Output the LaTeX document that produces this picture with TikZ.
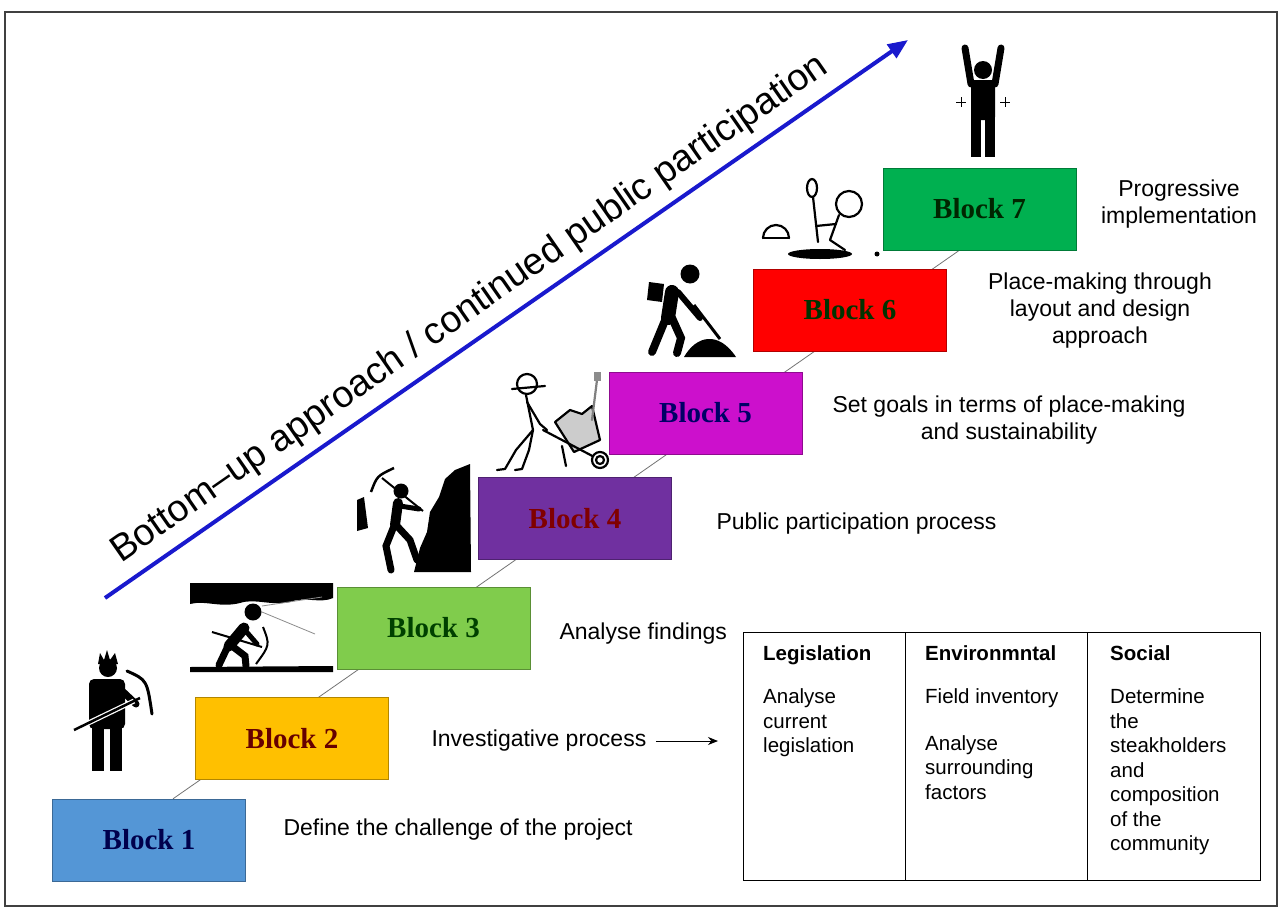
\documentclass[tikz,border=0pt]{standalone}
\usepackage{fontspec}
\setmainfont{Liberation Sans}
\newfontfamily\blockfont{Liberation Serif}
\usetikzlibrary{arrows.meta,positioning,backgrounds}
\definecolor{stepblue}{RGB}{84,150,214}
\definecolor{stepgold}{RGB}{255,192,0}
\definecolor{steplime}{RGB}{128,204,76}
\definecolor{steppurple}{RGB}{112,48,160}
\definecolor{stepmagenta}{RGB}{204,16,204}
\definecolor{stepred}{RGB}{255,0,0}
\definecolor{stepgreen}{RGB}{0,176,80}
\definecolor{approachblue}{RGB}{25,25,205}

\begin{document}
\begin{tikzpicture}[x=1pt,y=-1pt,
    every node/.style={font=\fontsize{23}{27}\selectfont},
    blockbox/.style 2 args={draw=#1!70!black,fill=#1,text=#2,inner sep=0pt,
                 minimum width=193pt,minimum height=82pt,
                 font=\blockfont\bfseries\fontsize{29}{32}\selectfont},
    desc/.style={align=center},
    cell/.style={align=left,anchor=north west,inner sep=0pt,
                 font=\fontsize{20.5}{24.5}\selectfont},
    link/.style={draw=black!55,line width=0.8pt}]
  \useasboundingbox (0,0) rectangle (1287,910);
  \draw[black!75,line width=1.3pt] (5,12) rectangle (1277,906);

  % the seven steps
  \node[blockbox={stepblue}{blue!30!black}] (b1) at (149,840) {Block 1};
  \node[blockbox={stepgold}{red!40!black}] (b2) at (292,738.5) {Block 2};
  \node[blockbox={steplime}{green!25!black}] (b3) at (433.5,628) {Block 3};
  \node[blockbox={steppurple}{red!50!black}] (b4) at (575,518.5) {Block 4};
  \node[blockbox={stepmagenta}{blue!40!black}] (b5) at (705.5,413) {Block 5};
  \node[blockbox={stepred}{green!20!black}] (b6) at (850,310) {Block 6};
  \node[blockbox={stepgreen}{green!15!black}] (b7) at (979.5,209) {Block 7};
  \begin{scope}[on background layer]
    \draw[link] ([xshift=24pt]b1.north) -- ([xshift=-20pt]b7.south);
  \end{scope}

  % diagonal arrow
  \coordinate (arrS) at (105,598);
  \coordinate (arrE) at (908,40);
  \draw[approachblue,line width=4pt,-{Triangle[length=20pt,width=16pt]}]
    (arrS) -- node[pos=0.475,sloped,above=6pt,text=black,
                   font=\fontsize{37.5}{40}\selectfont]
    {Bottom--up approach / continued public participation} (arrE);

  % what each step does
  \node[anchor=west] (d1) at (280,830) {Define the challenge of the project};
  \node[anchor=west] (d2) at (428,741) {Investigative process};
  \node[anchor=west] (d3) at (556,634) {Analyse findings};
  \node[anchor=west] (d4) at (713,524) {Public participation process};
  \node[desc] (d5) at (1009,420) {Set goals in terms of place-making\\and sustainability};
  \node[desc] (d6) at (1100,311) {Place-making through\\layout and design\\approach};
  \node[desc] (d7) at (1179,204) {Progressive\\implementation};

  % investigation table
  \node[draw,line width=1pt,anchor=north west,inner sep=0pt,
        minimum width=517pt,minimum height=248pt] (tab) at (743,632) {};
  \draw[line width=1pt] ([xshift=162pt]tab.north west) -- ([xshift=162pt]tab.south west);
  \draw[line width=1pt] ([xshift=344pt]tab.north west) -- ([xshift=344pt]tab.south west);
  \node[cell] (c1) at (763,645) {\textbf{Legislation}\\[19pt]Analyse\\current\\legislation};
  \node[cell] (c2) at (925,645) {\textbf{Environmntal}\\[19pt]Field inventory\\[22pt]Analyse\\surrounding\\factors};
  \node[cell] (c3) at (1110,645) {\textbf{Social}\\[19pt]Determine\\the\\steakholders\\and\\composition\\of the\\community};
  \draw[-{Stealth[length=10pt,width=8pt]},line width=1pt,shorten <=6pt,shorten >=25pt]
    (d2.east) -- (d2.east -| tab.west);

  % worker with pickaxe
  \fill (108,668) circle (9);
  \fill (98,664) -- (100,653) -- (104,660) -- (107,650) -- (110,660) -- (115,653) -- (118,664) -- cycle;
  \fill[rounded corners=5pt] (89,679) rectangle (125,729);
  \fill (92,724) rectangle (104,771);
  \fill (110,724) rectangle (122,771);
  \draw[line width=7pt,line cap=round] (119,688) -- (136,704);
  \draw[white,line width=5pt] (80,727) -- (134,701);
  \draw[line width=2.5pt] (74,730) -- (140,698);
  \draw[line width=3pt,line cap=round] (127,671) .. controls (147,680) .. (152,714);

  % miner in a tunnel
  \fill (190,583) -- (333,583) -- (333,598) .. controls (320,604) and (305,596) .. (290,602)
        .. controls (270,606) and (255,598) .. (240,603)
        .. controls (220,608) and (205,600) .. (190,604) -- cycle;
  \fill (190,667) -- (333,666) -- (333,672) -- (190,672) -- cycle;
  \draw[black!45,line width=0.8pt] (262,606) -- (322,597);
  \draw[black!45,line width=0.8pt] (262,612) -- (315,634);
  \fill (253,612) circle (8.5);
  \draw[line width=11pt,line cap=round] (244,628) -- (229,646);
  \draw[line width=7pt,line cap=round] (228,646) -- (219,665);
  \draw[line width=7pt,line cap=round] (232,646) -- (245,656) -- (246,666);
  \draw[line width=5pt,line cap=round] (244,629) -- (257,644);
  \draw[line width=2pt] (212,632) -- (262,647);
  \draw[line width=2pt] (263,627) .. controls (270,645) .. (256,664);

  % miner at the rock face
  \fill (414,572) -- (420,548) -- (427,532) -- (430,512) -- (439,497) -- (445,479)
        -- (455,470) -- (470,464) -- (471,572) -- cycle;
  \fill (357,500) -- (364,497) -- (368,528) -- (357,531) -- cycle;
  \fill (401,491) circle (7.5);
  \draw[line width=10pt,line cap=round] (398,503) -- (395,525);
  \draw[line width=7pt,line cap=round] (394,526) -- (386,546) -- (391,570);
  \draw[line width=7pt,line cap=round] (397,526) -- (410,540) -- (417,560);
  \draw[line width=5pt,line cap=round] (400,506) -- (419,509);
  \draw[line width=2pt] (423,511) -- (382,478);
  \draw[line width=2.5pt] (371,492) .. controls (377,476) .. (394,468);

  % barrow man
  \begin{scope}[line width=2.2pt,line cap=round,line join=round]
    \draw (527,384) circle (10);
    \draw (512,389) -- (545,386);
    \draw (526,395) -- (533,430);
    \draw (533,430) -- (516,450) -- (505,469) -- (497,470);
    \draw (533,430) -- (529,450) -- (522,469) -- (515,470);
    \draw (527,402) -- (540,424) -- (547,430);
    \draw[fill=black!20] (555,422) -- (570,410) -- (582,414) -- (592,406) -- (600,440) -- (574,452) -- cycle;
    \draw (543,430) -- (600,460);
    \draw (562,446) -- (566,466);
    \draw[fill=white] (600,460) circle (8);
    \draw (600,460) circle (4);
    \draw[black!50] (597,380) -- (592,420);
    \fill[black!45] (594,372) rectangle (601,381);
  \end{scope}

  % shoveller
  \fill (690,274) circle (9.5);
  \draw[line width=14pt,line cap=round] (672,292) -- (668,318);
  \fill (649,282) -- (664,284) -- (662,302) -- (647,300) -- cycle;
  \draw[line width=8pt,line cap=round] (666,318) -- (652,352);
  \draw[line width=8pt,line cap=round] (672,318) -- (681,338) -- (677,353);
  \draw[line width=6pt,line cap=round] (678,292) -- (700,318);
  \draw[line width=3pt] (694,305) -- (720,339);
  \fill (684,357) .. controls (696,336) and (718,330) .. (736,357) -- cycle;

  % planter
  \begin{scope}[line width=2.2pt,line cap=round,line join=round]
    \draw (849,204) circle (13);
    \draw (839,215) -- (830,240);
    \draw (836,224) -- (816,226);
    \draw (830,240) -- (845,250);
    \draw (812,188) ellipse (5 and 9);
    \draw (813,197) -- (818,242);
    \draw (763,238) -- (789,238);
    \draw (763,238) arc[start angle=180,end angle=360,radius=13];
  \end{scope}
  \fill (820,254) ellipse (32 and 5);
  \fill (877,254) circle (2.5);

  % cheering figure
  \fill (983,70) circle (9);
  \draw[line width=7pt,line cap=round] (971,84) -- (965,48);
  \draw[line width=7pt,line cap=round] (995,84) -- (1001,48);
  \fill[rounded corners=3pt] (971,80) rectangle (995,120);
  \fill (971,116) rectangle (981,157);
  \fill (985,116) rectangle (995,157);
  \draw[line width=0.7pt] (956,102) -- (966,102) (961,97) -- (961,107);
  \draw[line width=0.7pt] (1000,102) -- (1010,102) (1005,97) -- (1005,107);
\end{tikzpicture}
\end{document}
